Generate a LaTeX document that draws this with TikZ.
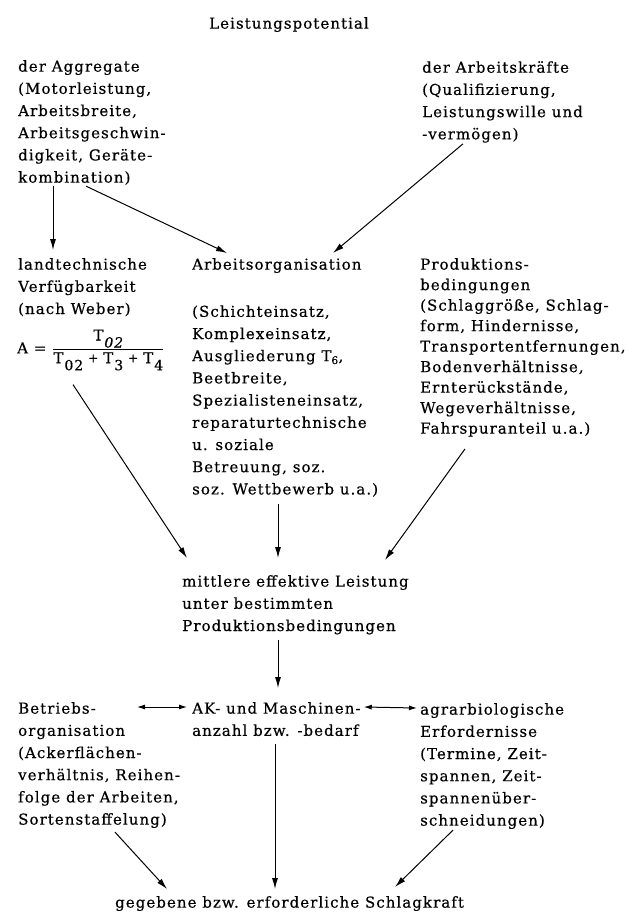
\documentclass[tikz,border=0pt]{standalone}
\usepackage{amsmath}
\usepackage{fontspec}
\setmainfont{DejaVu Serif}[LetterSpace=7,FakeBold=0.5]
\usepackage{tikz}
\usetikzlibrary{positioning}
\usetikzlibrary{arrows.meta}
\newcommand{\sbx}[1]{\hspace{1pt}\raisebox{-7pt}{\fontsize{14}{14}\selectfont #1}}
\newcommand{\plx}{\hspace{5pt}\raisebox{1pt}{\fontsize{12}{12}\selectfont +}\hspace{5pt}}
\begin{document}
\begin{tikzpicture}[x=1pt,y=-1pt,
            txt/.style={align=left,inner sep=0pt,anchor=north west,font=\fontsize{15}{22.2}\selectfont},
            tighttxt/.style={txt,font=\fontsize{15}{20.5}\selectfont},
            arr/.style={-{Latex[length=11pt,width=6pt]},line width=1pt},
            dbl/.style={{Latex[length=8pt,width=5pt]}-{Latex[length=8pt,width=5pt]},line width=1pt}]
            \useasboundingbox (0,0) rectangle (640,914);
            \node[txt,anchor=north] (pot) at (289,17) {Leistungspotential};
            \node[txt] (agg) at (18,60) {der Aggregate\\(Motorleistung,\\Arbeitsbreite,\\Arbeitsgeschwin-\\digkeit, Geräte-\\kombination)};
            \node[txt] (akr) at (422,61) {der Arbeitskräfte\\(Qualifizierung,\\Leistungswille und\\-vermögen)};
            \node[txt] (ltv) at (18,258) {landtechnische\\Verfügbarkeit\\(nach Weber)};
            \node[txt,anchor=west] (frm) at (17,350) {A = $\dfrac{\text{T\sbx{\itshape 02}}}{\text{T\sbx{02}\plx T\sbx{3}\plx T\sbx{4}}}$};
            \node[txt] (org) at (192,258) {Arbeitsorganisation\\[25pt](Schichteinsatz,\\Komplexeinsatz,\\Ausgliederung T\textsubscript{6},\\Beetbreite,\\Spezialisteneinsatz,\\reparaturtechnische\\u. soziale\\Betreuung, soz.\\soz. Wettbewerb u.a.)};
            \node[tighttxt] (prd) at (420,258) {Produktions-\\bedingungen\\(Schlaggröße, Schlag-\\form, Hindernisse,\\Transportentfernungen,\\Bodenverhältnisse,\\Ernterückstände,\\Wegeverhältnisse,\\Fahrspuranteil u.a.)};
            \node[txt] (mel) at (182,575) {mittlere effektive Leistung\\unter bestimmten\\Produktionsbedingungen};
            \node[txt] (bor) at (18,702) {Betriebs-\\organisation\\(Ackerflächen-\\verhältnis, Reihen-\\folge der Arbeiten,\\Sortenstaffelung)};
            \node[txt] (amz) at (192,702) {AK- und Maschinen-\\anzahl bzw. -bedarf};
            \node[txt] (agr) at (420,703) {agrarbiologische\\Erfordernisse\\(Termine, Zeit-\\spannen, Zeit-\\spannenüber-\\schneidungen)};
            \node[txt] (skr) at (115,896) {gegebene bzw. erforderliche Schlagkraft};
            \draw[arr] ([xshift=35pt,yshift=-1pt]agg.south west) -- ([xshift=35pt,yshift=8pt]ltv.north west);
            \draw[arr] ([xshift=68pt,yshift=-1pt]agg.south west) -- ([xshift=35pt,yshift=5pt]org.north west);
            \draw[arr] ([xshift=41pt,yshift=-1pt]akr.south west) -- ([xshift=141pt,yshift=5pt]org.north west);
            \draw[arr] ([xshift=56pt,yshift=-14pt]frm.south west) -- ([xshift=5pt,yshift=17pt]mel.north west);
            \draw[arr] ([xshift=86pt,yshift=-7pt]org.south west) -- ([xshift=96pt,yshift=17pt]mel.north west);
            \draw[arr] ([xshift=45pt,yshift=-12pt]prd.south west) -- ([xshift=203pt,yshift=15pt]mel.north west);
            \draw[arr] ([xshift=96pt,yshift=-5pt]mel.south west) -- ([xshift=86pt,yshift=14pt]amz.north west);
            \draw[dbl] ([xshift=119pt,yshift=-5pt]bor.north west) -- ([xshift=-5pt,yshift=-5pt]amz.north west);
            \draw[dbl] ([xshift=3pt,yshift=-5pt]amz.north east) -- ([xshift=-3pt,yshift=-5pt]agr.north west);
            \draw[arr] ([xshift=83pt,yshift=-8pt]amz.south west) -- ([xshift=160pt,yshift=7pt]skr.north west);
            \draw[arr] ([xshift=97pt,yshift=-4pt]bor.south west) -- ([xshift=52pt,yshift=7pt]skr.north west);
            \draw[arr] ([xshift=33pt,yshift=-1pt]agr.south west) -- ([xshift=280pt,yshift=9pt]skr.north west);
\end{tikzpicture}
\end{document}
